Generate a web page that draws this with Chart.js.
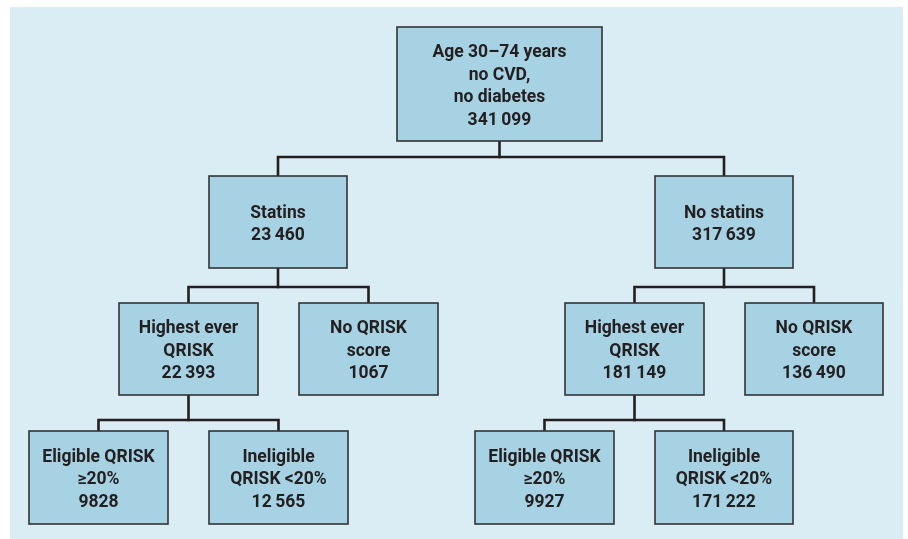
<!DOCTYPE html>
<html>
<head>
<meta charset="utf-8">
<script src="https://cdn.jsdelivr.net/npm/chart.js@4"></script>
<style>
  html, body { margin: 0; padding: 0; background: #fff; }
  canvas { display: block; }
</style>
</head>
<body>
<canvas id="flowChart" width="908" height="539"></canvas>
<script>
// tree data
const nodeText = [
  ['Age 30\u201374 years', 'no CVD,', 'no diabetes'],
  ['Statins'],
  ['No statins'],
  ['Highest ever', 'QRISK'],
  ['No QRISK', 'score'],
  ['Highest ever', 'QRISK'],
  ['No QRISK', 'score'],
  ['Eligible QRISK', '\u226520%'],
  ['Ineligible', 'QRISK <20%'],
  ['Eligible QRISK', '\u226520%'],
  ['Ineligible', 'QRISK <20%']
];
const nodeCounts = [341099, 23460, 317639, 22393, 1067, 181149, 136490, 9828, 12565, 9927, 171222];
const nodeParent = [null, 0, 0, 1, 1, 2, 2, 3, 3, 5, 5];

// layout (in the 908 x 539 frame used by the hidden axes)
const boxLeft   = [397, 209, 655, 119, 299, 565, 745, 29, 209, 475, 655];
const boxRight  = [602, 347, 793, 258, 438, 704, 883, 168, 348, 614, 793];
const boxTop    = [27, 176, 176, 303, 303, 303, 303, 431, 431, 431, 431];
const boxBottom = [141, 268, 268, 395, 395, 395, 395, 524, 524, 524, 524];
const busY = { 0: 157, 1: 287, 2: 287, 3: 420, 5: 420 };
const panel = { left: 10, right: 903, top: 7, bottom: 539 };

const lineColor = '#231f20';
const boxFill = '#a6d2e3';
const panelFill = '#daecf4';

function fmt(n) {
  const s = String(n);
  if (s.length <= 4) return s;
  return s.replace(/\B(?=(\d{3})+(?!\d))/g, '\u2009');
}

function centerX(i) { return (boxLeft[i] + boxRight[i]) / 2; }

// connectors as line datasets
const datasets = [];
Object.keys(busY).forEach(k => {
  const p = Number(k);
  const kids = nodeParent.map((par, i) => par === p ? i : -1).filter(i => i >= 0);
  const bus = busY[p];
  datasets.push({
    data: [{ x: centerX(p), y: boxBottom[p] }, { x: centerX(p), y: bus }]
  });
  const first = kids[0], last = kids[kids.length - 1];
  datasets.push({
    data: [
      { x: centerX(first), y: boxTop[first] },
      { x: centerX(first), y: bus },
      { x: centerX(last), y: bus },
      { x: centerX(last), y: boxTop[last] }
    ]
  });
});
datasets.forEach(d => {
  d.showLine = true;
  d.pointRadius = 0;
  d.borderColor = lineColor;
  d.borderWidth = 2.6;
  d.borderJoinStyle = 'miter';
  d.borderCapStyle = 'square';
  d.tension = 0;
});

const flowPlugin = {
  id: 'flowPlugin',
  beforeDraw(chart) {
    const { ctx, scales: { x, y } } = chart;
    ctx.save();
    ctx.fillStyle = panelFill;
    const l = x.getPixelForValue(panel.left), r = x.getPixelForValue(panel.right);
    const t = y.getPixelForValue(panel.top), b = y.getPixelForValue(panel.bottom);
    ctx.fillRect(l, t, r - l, b - t);
    ctx.restore();
  },
  afterDatasetsDraw(chart) {
    const { ctx, scales: { x, y } } = chart;
    ctx.save();
    nodeText.forEach((lines, i) => {
      const l = x.getPixelForValue(boxLeft[i]), r = x.getPixelForValue(boxRight[i]);
      const t = y.getPixelForValue(boxTop[i]), b = y.getPixelForValue(boxBottom[i]);
      ctx.fillStyle = boxFill;
      ctx.fillRect(l, t, r - l, b - t);
      ctx.strokeStyle = '#333333';
      ctx.lineWidth = 1.6;
      ctx.strokeRect(l, t, r - l, b - t);

      const all = lines.concat([fmt(nodeCounts[i])]);
      const lh = 22.5;
      const cx = (l + r) / 2, cy = (t + b) / 2;
      ctx.fillStyle = lineColor;
      ctx.font = 'bold 17.5px Roboto';
      ctx.textAlign = 'center';
      ctx.textBaseline = 'middle';
      all.forEach((txt, j) => {
        ctx.fillText(txt, cx, cy + (j - (all.length - 1) / 2) * lh + 2.5);
      });
    });
    ctx.restore();
  }
};

new Chart(document.getElementById('flowChart'), {
  type: 'scatter',
  data: { datasets },
  options: {
    responsive: false,
    animation: false,
    layout: { padding: 0 },
    scales: {
      x: { type: 'linear', min: 0, max: 908, display: false },
      y: { type: 'linear', min: 0, max: 539, reverse: true, display: false }
    },
    plugins: { legend: { display: false }, tooltip: { enabled: false } }
  },
  plugins: [flowPlugin]
});
</script>
</body>
</html>
